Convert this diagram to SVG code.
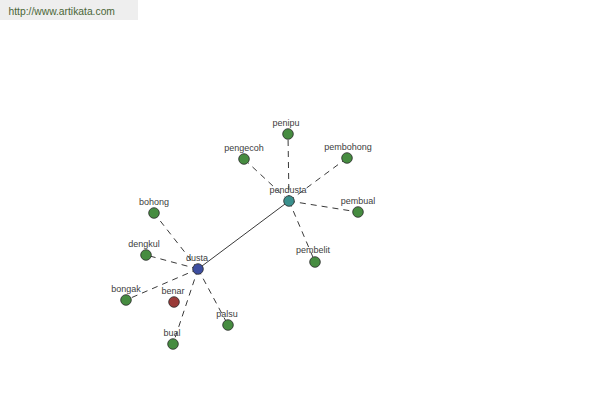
<svg xmlns="http://www.w3.org/2000/svg" width="600" height="400" viewBox="0 0 600 400">
<style>
.lbl{font-family:"Liberation Sans",Arial,sans-serif;font-size:9px;fill:#404040;text-anchor:middle}
.n{stroke:#2a2a2a;stroke-width:0.8}
.g{fill:#468c40}
.d{stroke:#222;stroke-width:0.9;stroke-dasharray:6,5;fill:none}
.s{stroke:#222;stroke-width:0.9;fill:none}
</style>
<rect width="600" height="400" fill="#ffffff"/>
<rect x="0" y="0" width="138" height="20" fill="#eeeeee"/>
<text x="8.5" y="15" style="font-family:'Liberation Sans',Arial,sans-serif;font-size:10.3px;fill:#4a6636">http://www.artikata.com</text>
<g id="connectors">
<line class="s" x1="198" y1="269" x2="289" y2="201"/>
<line class="d" x1="289" y1="201" x2="288" y2="134"/>
<line class="d" x1="289" y1="201" x2="244" y2="159"/>
<line class="d" x1="289" y1="201" x2="347" y2="158"/>
<line class="d" x1="289" y1="201" x2="358" y2="212"/>
<line class="d" x1="289" y1="201" x2="315" y2="262"/>
<line class="d" x1="198" y1="269" x2="154" y2="213"/>
<line class="d" x1="198" y1="269" x2="146" y2="255"/>
<line class="d" x1="198" y1="269" x2="126" y2="300"/>
<line class="d" x1="198" y1="269" x2="173" y2="344"/>
<line class="d" x1="198" y1="269" x2="228" y2="325"/>
</g>
<g id="pendusta"><circle class="n" cx="289" cy="201" r="5.3" fill="#3a8f8c"/><text class="lbl" x="288" y="193">pendusta</text></g>
<g id="dusta"><circle class="n" cx="198" cy="269" r="5.3" fill="#3d4ea0"/><text class="lbl" x="197" y="261">dusta</text></g>
<g id="penipu"><circle class="n g" cx="288" cy="134" r="5.3"/><text class="lbl" x="286" y="126">penipu</text></g>
<g id="pengecoh"><circle class="n g" cx="244" cy="159" r="5.3"/><text class="lbl" x="244" y="151">pengecoh</text></g>
<g id="pembohong"><circle class="n g" cx="347" cy="158" r="5.3"/><text class="lbl" x="348" y="150">pembohong</text></g>
<g id="pembual"><circle class="n g" cx="358" cy="212" r="5.3"/><text class="lbl" x="358" y="204">pembual</text></g>
<g id="pembelit"><circle class="n g" cx="315" cy="262" r="5.3"/><text class="lbl" x="313" y="253">pembelit</text></g>
<g id="bohong"><circle class="n g" cx="154" cy="213" r="5.3"/><text class="lbl" x="154" y="205">bohong</text></g>
<g id="dengkul"><circle class="n g" cx="146" cy="255" r="5.3"/><text class="lbl" x="144" y="247">dengkul</text></g>
<g id="bongak"><circle class="n g" cx="126" cy="300" r="5.3"/><text class="lbl" x="126" y="292">bongak</text></g>
<g id="benar"><circle class="n" cx="174" cy="302" r="5.3" fill="#9a3b38"/><text class="lbl" x="173" y="294">benar</text></g>
<g id="bual"><circle class="n g" cx="173" cy="344" r="5.3"/><text class="lbl" x="172" y="336">bual</text></g>
<g id="palsu"><circle class="n g" cx="228" cy="325" r="5.3"/><text class="lbl" x="227" y="317">palsu</text></g>
</svg>
